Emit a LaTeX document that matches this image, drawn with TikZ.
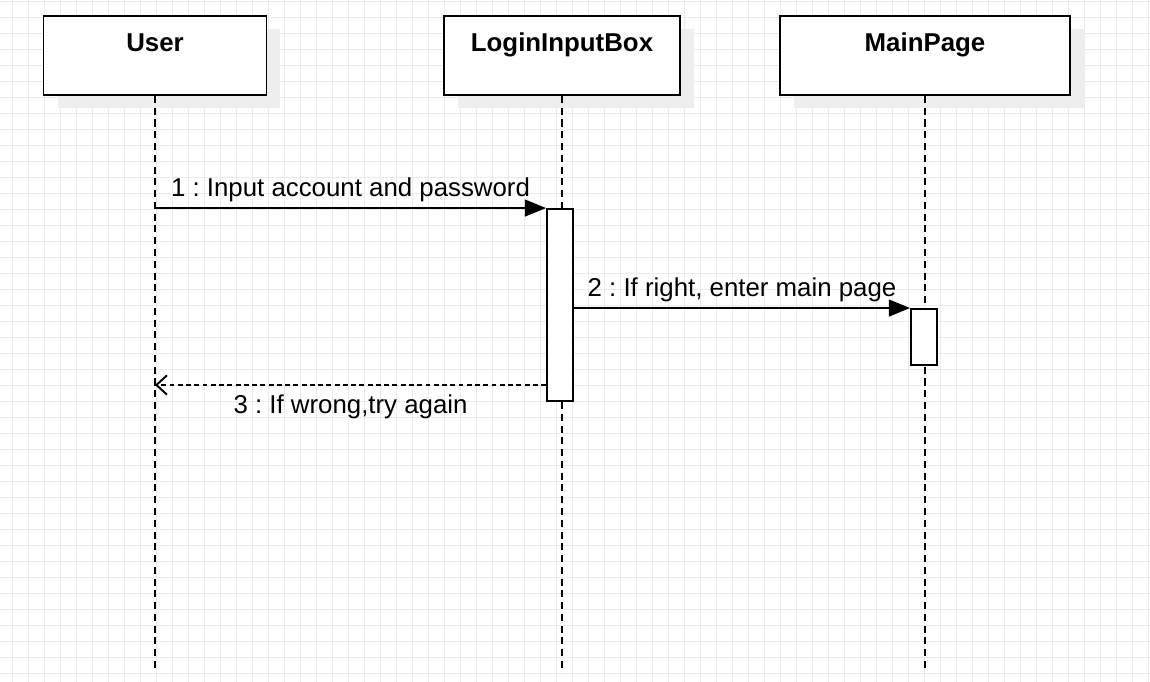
\documentclass[tikz,border=0pt]{standalone}
\usepackage{fontspec}
\setmainfont{Liberation Sans}
\frenchspacing
\usetikzlibrary{arrows.meta, shadows}
\definecolor{gridcolor}{HTML}{EBEBEB}
\definecolor{shadowcolor}{HTML}{EEEEEE}

\begin{document}
\begin{tikzpicture}[
    x=0.02cm, y=-0.02cm,
    every node/.style={font=\fontsize{14.7}{17}\selectfont},
    gridline/.style={gridcolor, line width=0.5pt},
    obj/.style={draw, line width=1.1pt, fill=white, inner sep=0pt,
        minimum height=1.58cm, text height=0.72cm, text depth=0.86cm,
        font=\fontsize{14.7}{17}\selectfont\bfseries,
        drop shadow={shadow xshift=0.28cm, shadow yshift=-0.26cm, fill=shadowcolor, opacity=1}},
    lifeline/.style={line width=1.1pt, dash pattern=on 4pt off 2.7pt},
    act/.style={draw, line width=1.1pt, fill=white, inner sep=0pt, minimum width=0.52cm},
    call/.style={line width=1.1pt, -{Triangle[length=12pt, width=9.5pt]}},
    reply/.style={line width=1.1pt, dash pattern=on 2.8pt off 1.9pt, -{Straight Barb[length=6pt, width=11pt]}},
    above text/.style={anchor=base, yshift=0.24cm},
    below text/.style={anchor=base, yshift=-0.58cm},
]
\useasboundingbox (0,0) rectangle (1150,682);

% background grid
\foreach \gx in {12,28,...,1148} \draw[gridline] (\gx,0) -- (\gx,682);
\foreach \gy in {1,17,...,681} \draw[gridline] (0,\gy) -- (1150,\gy);

% objects
\node[obj, minimum width=4.46cm] (user) at (155,55.5) {User};
\node[obj, minimum width=4.72cm] (login) at (562,55.5) {LoginInputBox};
\node[obj, minimum width=5.8cm] (main) at (925,55.5) {MainPage};

% lifelines
\coordinate (userEnd) at (155,668);
\coordinate (loginEnd) at (562,668);
\coordinate (mainEnd) at (925,668);
\draw[lifeline] (user.south) -- (userEnd);
\draw[lifeline] (login.south) -- (loginEnd);
\draw[lifeline] (main.south) -- (mainEnd);

% activations
\node[act, minimum height=3.84cm] (act1) at (560,305) {};
\node[act, minimum height=1.12cm] (act2) at (924,337) {};

% messages
\coordinate (ret) at (0,385);
\draw[call] (user.south |- act1.north west) -- node[above text] (m1) {1 : Input account and password} (act1.north west);
\draw[call] (act1.east |- act2.north west) -- node[above text] (m2) {2 : If right, enter main page} (act2.north west);
\draw[reply] (act1.west |- ret) -- node[below text] (m3) {3 : If wrong,try again} (user.south |- ret);
\end{tikzpicture}
\end{document}
